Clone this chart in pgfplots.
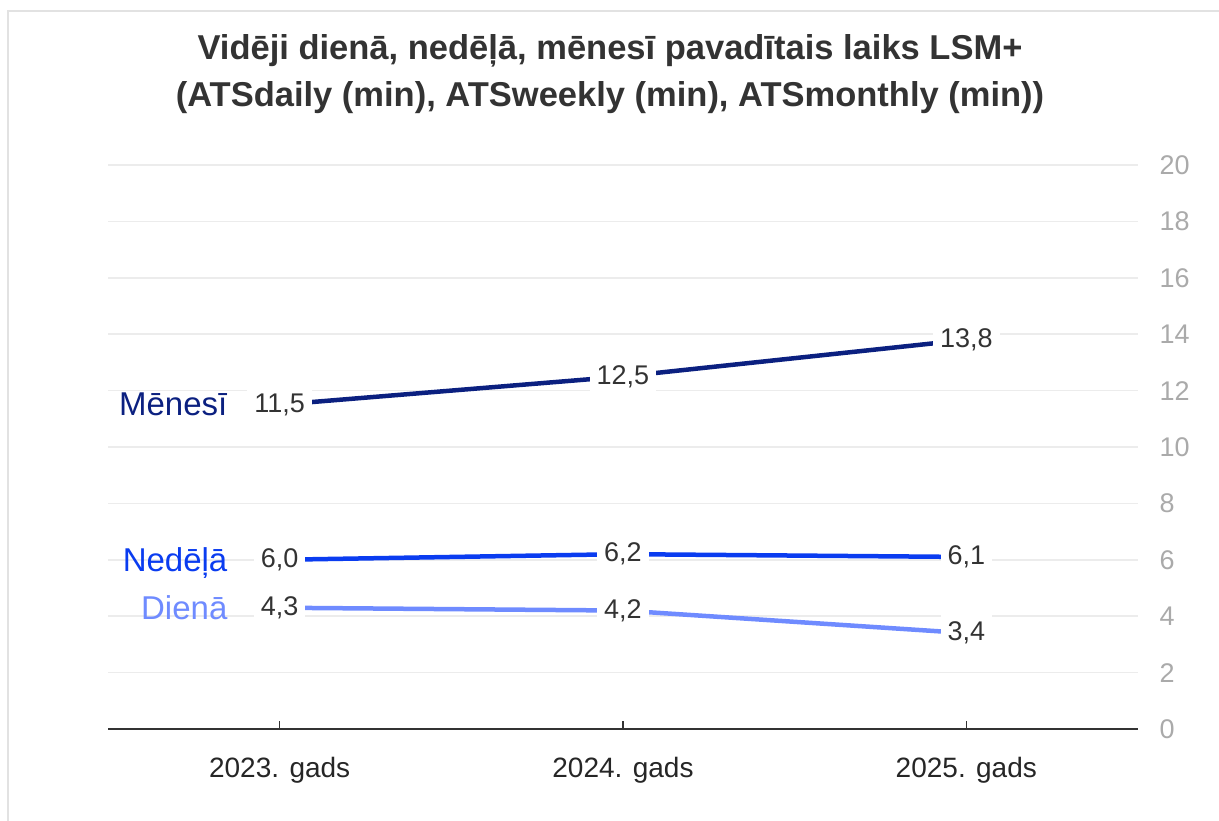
\documentclass[border=0pt]{standalone}
\usepackage{fontspec}
\setmainfont{Liberation Sans}
\usepackage{pgfplots}
\pgfplotsset{compat=1.18}

\definecolor{menesi}{HTML}{0B2080}
\definecolor{nedela}{HTML}{0A3CF0}
\definecolor{diena}{HTML}{6F8BFF}
\definecolor{titlecol}{HTML}{333333}
\definecolor{labelcol}{HTML}{333333}
\definecolor{tickcol}{HTML}{AAAAAA}
\definecolor{gridcol}{HTML}{ECECEC}
\definecolor{framecol}{HTML}{E2E2E2}

\begin{document}
\begin{tikzpicture}[x=1pt,y=1pt]
  \useasboundingbox (0,0) rectangle (1219,821);
  % light frame, only top and left visible
  \draw[framecol, line width=2pt] (8,0) -- (8,810) -- (1219,810);

  \node[align=center, text=titlecol, font=\fontsize{34.5}{47}\selectfont\bfseries]
    at (610,747) {Vidēji dienā, nedēļā, mēnesī pavadītais laiks LSM+\\(ATSdaily (min), ATSweekly (min), ATSmonthly (min))};

  \begin{axis}[
    at={(108pt,92pt)}, anchor=south west,
    scale only axis,
    width=1030pt, height=564pt,
    xmin=-0.5, xmax=2.5,
    ymin=0, ymax=20,
    clip=false,
    axis x line*=bottom,
    axis y line*=right,
    y axis line style={draw=none},
    x axis line style={draw=titlecol, line width=2pt},
    xtick={0,1,2},
    xticklabels={2023. gads, 2024. gads, 2025. gads},
    ytick={0,2,...,20},
    tick align=inside,
    major tick length=8pt,
    xtick style={draw=titlecol, line width=1.2pt},
    ytick style={draw=none},
    ymajorgrids,
    grid style={gridcol, line width=1.5pt},
    /pgf/number format/assume math mode=true,
    xticklabel style={font=\fontsize{28}{30}\selectfont, text=black!85, yshift=-25pt},
    yticklabel style={font=\fontsize{27}{29}\selectfont, text=tickcol, anchor=west, xshift=18pt},
    nodes near coords={\fontsize{27}{29}\selectfont\pgfmathprintnumber[fixed, fixed zerofill, precision=1, use comma]{\pgfplotspointmeta}},
    nodes near coords style={anchor=center, fill=white, text=labelcol, inner sep=7pt},
    point meta=y,
  ]
    % Mēnesī
    \addplot[menesi, line width=4.5pt, mark=none] coordinates {(0,11.5) (1,12.5) (2,13.8)};
    % Nedēļā
    \addplot[nedela, line width=4.5pt, mark=none] coordinates {(0,6.0) (1,6.2) (2,6.1)};
    % Dienā
    \addplot[diena, line width=4.5pt, mark=none] coordinates {(0,4.3) (1,4.2) (2,3.4)};

    \node[anchor=east, text=menesi, font=\fontsize{33}{35}\selectfont] at (axis cs:-0.142,11.5) {Mēnesī};
    \node[anchor=east, text=nedela, font=\fontsize{33}{35}\selectfont] at (axis cs:-0.142,5.9) {Nedēļā};
    \node[anchor=east, text=diena, font=\fontsize{33}{35}\selectfont] at (axis cs:-0.142,4.3) {Dienā};
  \end{axis}
\end{tikzpicture}
\end{document}
